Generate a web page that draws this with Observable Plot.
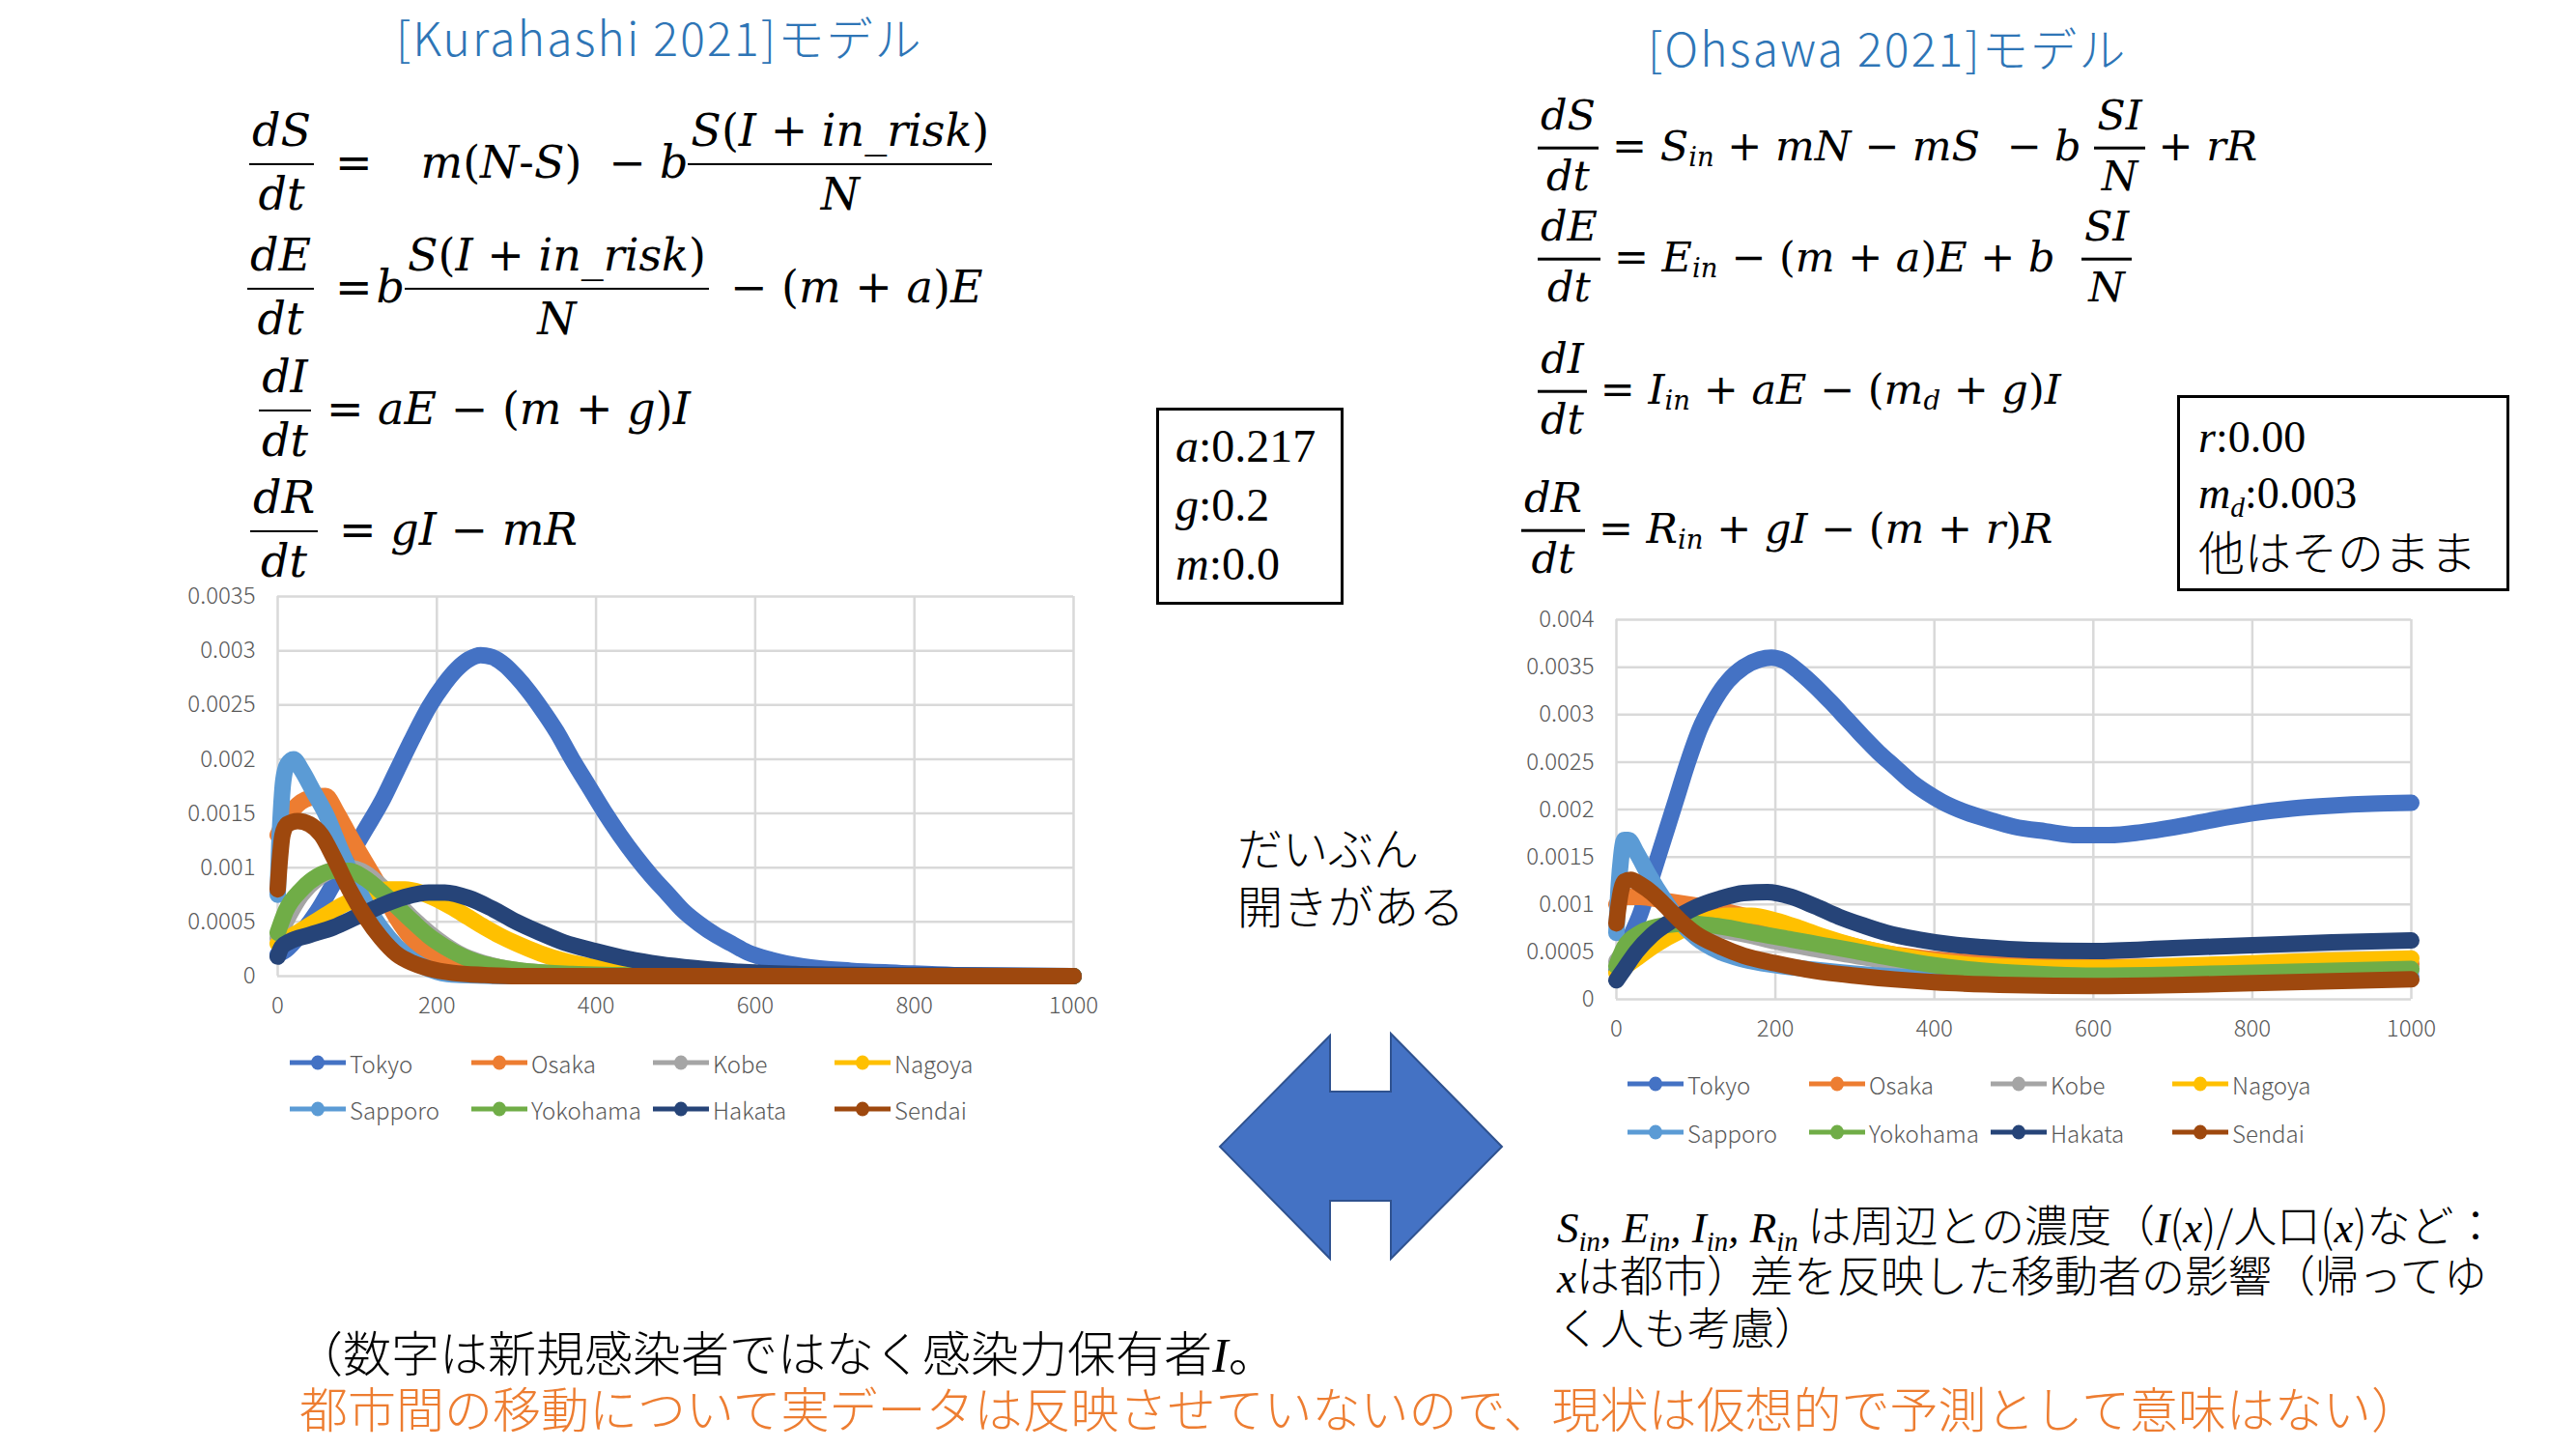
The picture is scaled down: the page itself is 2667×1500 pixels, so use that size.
<!DOCTYPE html>
<html>
<head>
<meta charset="utf-8">
<script src="https://cdn.jsdelivr.net/npm/d3@7"></script>
<script src="https://cdn.jsdelivr.net/npm/@observablehq/plot@0.6"></script>
<style>
  html, body { margin: 0; padding: 0; background: #fff; }
  #page { position: relative; width: 2667px; height: 1500px; overflow: hidden; background: #fff; }
  .abs { position: absolute; white-space: nowrap; }
  .jp { font-family: "Noto Sans CJK JP", "Noto Sans", sans-serif; font-weight: 300; }
  .title { color: #2E75B6; font-size: 48px; letter-spacing: 2.2px; line-height: 1.3; transform: translateY(-50%); }
  .eq { position: absolute; display: flex; align-items: center; font-family: "DejaVu Serif", "Liberation Serif", serif;
        font-style: italic; font-size: 46px; line-height: 1; white-space: nowrap; transform: translateY(-50%); color: #000; }
  .eq .u { font-style: normal; }
  .fr { display: inline-flex; flex-direction: column; text-align: center; }
  .fr > .n { padding: 0 3px 8px; line-height: 1.1; border-bottom: 2px solid #000; }
  .fr > .d { padding: 5px 3px 0; line-height: 1.1; }
  .eqR { font-size: 43px; }
  .eqR .fr > .n { border-bottom: 3.5px solid #000; padding-bottom: 9px; }
  .eqR .fr > .d { padding-top: 4px; }
  .sb { font-size: 0.64em; position: relative; top: 0.4em; font-style: italic; }
  .box { position: absolute; border: 3px solid #000; box-sizing: border-box; font-family: "Liberation Serif", serif; color: #000; }
  .box div { height: 61px; line-height: 61px; white-space: nowrap; }
  .legend { position: absolute; display: grid; grid-template-columns: repeat(4, 188px); }
  .lg-item { display: flex; align-items: center; height: 48px; font-family: "Noto Sans CJK JP", "Noto Sans", sans-serif;
             font-weight: 300; font-size: 24px; color: #595959; }
  .lg-item svg { margin-right: 4px; flex: none; }
  .note { font-size: 45px; line-height: 1; color: #000; transform: translateY(-50%); }
  .note i, .bt i { font-family: "Liberation Serif", serif; font-style: italic; }
  .note .sb { font-family: "Liberation Serif", serif; top: 0.3em; }
</style>
</head>
<body>
<div id="page">
  <!-- titles -->
  <div class="abs jp title" style="left:410px;top:37px;">[Kurahashi 2021]モデル</div>
  <div class="abs jp title" style="left:1706px;top:48px;">[Ohsawa 2021]モデル</div>

  <!-- Kurahashi equations -->
  <div class="eq" style="left:258px;top:168px;">
    <span class="fr"><span class="n">dS</span><span class="d">dt</span></span>
    <span class="u" style="margin-left:22px;">=</span>
    <span style="margin-left:50px;">m<span class="u">(</span>N<span class="u">-</span>S<span class="u">)</span></span>
    <span class="u" style="margin-left:28px;">−</span><span style="margin-left:14px;">b</span>
    <span class="fr"><span class="n">S<span class="u">(</span>I <span class="u">+</span> in_risk<span class="u">)</span></span><span class="d">N</span></span>
  </div>
  <div class="eq" style="left:256px;top:297px;">
    <span class="fr"><span class="n">dE</span><span class="d">dt</span></span>
    <span class="u" style="margin-left:22px;">=</span><span style="margin-left:4px;">b</span>
    <span class="fr"><span class="n">S<span class="u">(</span>I <span class="u">+</span> in_risk<span class="u">)</span></span><span class="d">N</span></span>
    <span class="u" style="margin-left:22px;">− (</span>m <span class="u">&nbsp;+&nbsp;</span> a<span class="u">)</span>E
  </div>
  <div class="eq" style="left:268px;top:423px;">
    <span class="fr"><span class="n">dI</span><span class="d">dt</span></span>
    <span class="u" style="margin-left:16px;">=</span>&nbsp;aE&nbsp;<span class="u">− (</span>m&nbsp;<span class="u">+</span>&nbsp;g<span class="u">)</span>I
  </div>
  <div class="eq" style="left:259px;top:548px;">
    <span class="fr"><span class="n">dR</span><span class="d">dt</span></span>
    <span class="u" style="margin-left:22px;">=</span>&nbsp;gI&nbsp;<span class="u">−</span>&nbsp;mR
  </div>

  <!-- Ohsawa equations -->
  <div class="eq eqR" style="left:1592px;top:151px;">
    <span class="fr"><span class="n">dS</span><span class="d">dt</span></span>
    <span class="u" style="margin-left:14px;">=</span>&nbsp;S<span class="sb">in</span>&nbsp;<span class="u">+</span>&nbsp;mN&nbsp;<span class="u">−</span>&nbsp;mS&nbsp;&nbsp;<span class="u">−</span>&nbsp;b&nbsp;
    <span class="fr"><span class="n">SI</span><span class="d">N</span></span>
    &nbsp;<span class="u">+</span>&nbsp;rR
  </div>
  <div class="eq eqR" style="left:1592px;top:266px;">
    <span class="fr"><span class="n">dE</span><span class="d">dt</span></span>
    <span class="u" style="margin-left:14px;">=</span>&nbsp;E<span class="sb">in</span>&nbsp;<span class="u">− (</span>m&nbsp;<span class="u">+</span>&nbsp;a<span class="u">)</span>E&nbsp;<span class="u">+</span>&nbsp;b&nbsp;&nbsp;
    <span class="fr"><span class="n">SI</span><span class="d">N</span></span>
  </div>
  <div class="eq eqR" style="left:1592px;top:403px;">
    <span class="fr"><span class="n">dI</span><span class="d">dt</span></span>
    <span class="u" style="margin-left:14px;">=</span>&nbsp;I<span class="sb">in</span>&nbsp;<span class="u">+</span>&nbsp;aE&nbsp;<span class="u">− (</span>m<span class="sb">d</span>&nbsp;<span class="u">+</span>&nbsp;g<span class="u">)</span>I
  </div>
  <div class="eq eqR" style="left:1575px;top:547px;">
    <span class="fr"><span class="n">dR</span><span class="d">dt</span></span>
    <span class="u" style="margin-left:14px;">=</span>&nbsp;R<span class="sb">in</span>&nbsp;<span class="u">+</span>&nbsp;gI&nbsp;<span class="u">− (</span>m&nbsp;<span class="u">+</span>&nbsp;r<span class="u">)</span>R
  </div>

  <!-- parameter boxes -->
  <div class="box" style="left:1197px;top:422px;width:194px;height:204px;padding:6px 0 0 17px;font-size:48px;">
    <div><i>a</i>:0.217</div>
    <div><i>g</i>:0.2</div>
    <div><i>m</i>:0.0</div>
  </div>
  <div class="box" style="left:2254px;top:409px;width:344px;height:203px;padding:12px 0 0 19px;font-size:46px;">
    <div style="height:58px;line-height:58px;"><i>r</i>:0.00</div>
    <div style="height:58px;line-height:58px;"><i>m<span class="sb" style="font-family:'Liberation Serif',serif;top:0.3em;">d</span></i>:0.003</div>
    <div class="jp" style="height:58px;line-height:58px;font-size:48px;">他はそのまま</div>
  </div>

  <!-- charts -->
  <div id="chartL" class="abs" style="left:170px;top:590px;width:1000px;height:480px;"></div>
  <div id="chartR" class="abs" style="left:1560px;top:615px;width:1000px;height:480px;"></div>
  <div id="legendL" class="legend" style="left:300px;top:1076px;"></div>
  <div id="legendR" class="legend" style="left:1685px;top:1097px;"></div>

  <!-- middle comment and arrow -->
  <div class="abs jp" style="left:1281px;top:846px;font-size:47px;line-height:60px;color:#000;">だいぶん<br>開きがある</div>
  <svg class="abs" style="left:0;top:0;" width="2667" height="1500" pointer-events="none">
    <polygon points="1263,1187 1377,1072 1377,1130 1440,1130 1440,1070 1555,1187 1440,1303 1440,1243 1377,1243 1377,1303"
             fill="#4472C4" stroke="#2F528F" stroke-width="2"/>
  </svg>

  <!-- right note -->
  <div class="abs jp note" style="left:1612px;top:1269px;"><i>S<span class="sb">in</span>, E<span class="sb">in</span>, I<span class="sb">in</span>, R<span class="sb">in</span></i> は周辺との濃度（<i>I</i>(<i>x</i>)/人口(<i>x</i>)など：</div>
  <div class="abs jp note" style="left:1612px;top:1321px;"><i>x</i>は都市）差を反映した移動者の影響（帰ってゆ</div>
  <div class="abs jp note" style="left:1612px;top:1372px;">く人も考慮）</div>

  <!-- bottom text -->
  <div class="abs jp bt" style="left:305px;top:1370px;font-size:50px;line-height:56px;color:#000;">（数字は新規感染者ではなく感染力保有者<i>I</i>。</div>
  <div class="abs jp" style="left:310px;top:1428px;font-size:50px;line-height:56px;color:#ED7D31;">都市間の移動について実データは反映させていないので、現状は仮想的で予測として意味はない）</div>
</div>

<script>
// ---- categories & styling keys ----
const cities = ["Tokyo", "Osaka", "Kobe", "Nagoya", "Sapporo", "Yokohama", "Hakata", "Sendai"];
const cityColors = ["#4472C4", "#ED7D31", "#A5A5A5", "#FFC000", "#5B9BD5", "#70AD47", "#264478", "#9E480E"];
const xTicks = [0, 200, 400, 600, 800, 1000];
const kuraYTicks = [0, 0.0005, 0.001, 0.0015, 0.002, 0.0025, 0.003, 0.0035];
const ohsaYTicks = [0, 0.0005, 0.001, 0.0015, 0.002, 0.0025, 0.003, 0.0035, 0.004];

// ---- [Kurahashi 2021] model: [day, I] ----
const kuraTokyo = [[0,0.0002],[10,0.00024],[30,0.0004],[50,0.0006],[70,0.00085],[90,0.0011],[110,0.00135],[130,0.0016],[150,0.0019],[170,0.0022],[190,0.00248],[210,0.0027],[225,0.00283],[240,0.00292],[255,0.00296],[270,0.00294],[285,0.00287],[300,0.00276],[315,0.00263],[330,0.00248],[350,0.00226],[370,0.002],[390,0.00176],[410,0.00152],[430,0.0013],[450,0.0011],[470,0.00092],[490,0.00076],[510,0.0006],[530,0.00048],[550,0.00038],[570,0.0003],[590,0.00022],[620,0.00015],[660,0.00009],[720,0.00005],[780,0.00003],[850,0.00001],[1000,0]];
const kuraOsaka = [[0,0.0013],[10,0.00145],[25,0.00158],[45,0.00165],[60,0.00166],[75,0.0015],[90,0.0013],[110,0.00105],[130,0.0008],[150,0.00053],[170,0.00033],[190,0.0002],[210,0.0001],[230,0.00005],[260,0.00002],[300,0],[1000,0]];
const kuraKobe = [[0,0.00035],[10,0.0005],[30,0.00075],[50,0.0009],[70,0.00098],[90,0.001],[110,0.00095],[130,0.00083],[150,0.00068],[170,0.00053],[190,0.0004],[210,0.00029],[230,0.0002],[250,0.00014],[280,0.00008],[320,0.00004],[370,0.00002],[420,0],[1000,0]];
const kuraNagoya = [[0,0.0003],[20,0.00038],[40,0.00047],[60,0.00056],[80,0.00065],[100,0.00072],[120,0.00078],[140,0.0008],[160,0.0008],[180,0.00077],[200,0.00071],[220,0.00063],[240,0.00054],[260,0.00045],[280,0.00037],[300,0.0003],[330,0.00021],[360,0.00014],[400,0.00008],[450,0.00004],[500,0.00002],[600,0],[1000,0]];
const kuraSapporo = [[0,0.00075],[2,0.0012],[4,0.0015],[7,0.0018],[12,0.00195],[20,0.002],[30,0.0019],[45,0.0017],[60,0.0015],[80,0.00115],[100,0.00082],[120,0.00055],[140,0.00035],[160,0.0002],[180,0.0001],[200,0.00004],[230,0.00001],[300,0],[1000,0]];
const kuraYokohama = [[0,0.0004],[10,0.0006],[30,0.0008],[50,0.00092],[70,0.00097],[90,0.00097],[110,0.0009],[130,0.00078],[150,0.00064],[170,0.0005],[190,0.00037],[210,0.00027],[230,0.00019],[250,0.00013],[280,0.00008],[320,0.00004],[370,0.00002],[420,0.00001],[500,0],[1000,0]];
const kuraHakata = [[0,0.00018],[5,0.00027],[15,0.00032],[40,0.00038],[70,0.00045],[100,0.00055],[130,0.00065],[160,0.00073],[190,0.00077],[210,0.00077],[240,0.00072],[270,0.00062],[300,0.0005],[330,0.0004],[360,0.00031],[400,0.00023],[440,0.00016],[480,0.00011],[530,0.00007],[580,0.00004],[650,0.00002],[750,0.00001],[1000,0]];
const kuraSendai = [[0,0.0008],[3,0.0011],[6,0.0013],[12,0.0014],[25,0.00143],[40,0.0014],[55,0.0013],[70,0.0011],[90,0.0008],[110,0.00055],[130,0.00035],[150,0.0002],[170,0.00012],[190,0.00007],[220,0.00003],[260,0.00001],[300,0],[1000,0]];

// ---- [Ohsawa 2021] model ----
const ohsaTokyo = [[0,0.0003],[10,0.0005],[20,0.0007],[30,0.0009],[45,0.0013],[60,0.0017],[75,0.0021],[90,0.0025],[105,0.00285],[120,0.0031],[140,0.00335],[160,0.0035],[180,0.00358],[195,0.0036],[210,0.00357],[230,0.00345],[250,0.0033],[270,0.00313],[290,0.00295],[310,0.00277],[330,0.0026],[350,0.00245],[370,0.0023],[390,0.00218],[410,0.00208],[440,0.00197],[470,0.00189],[500,0.00182],[540,0.00177],[580,0.00173],[620,0.00173],[660,0.00176],[700,0.00181],[750,0.00189],[800,0.00196],[850,0.00201],[900,0.00204],[950,0.00206],[1000,0.00207]];
const ohsaOsaka = [[0,0.001],[10,0.00108],[30,0.00108],[60,0.00104],[90,0.001],[120,0.00096],[150,0.0009],[180,0.00084],[210,0.00077],[240,0.00069],[280,0.0006],[330,0.0005],[400,0.00042],[500,0.00037],[600,0.00034],[700,0.00034],[800,0.00035],[900,0.00036],[1000,0.00037]];
const ohsaKobe = [[0,0.0004],[20,0.0006],[50,0.00072],[80,0.00076],[110,0.00076],[140,0.00072],[170,0.00067],[200,0.00061],[250,0.00053],[300,0.00046],[350,0.00039],[400,0.00033],[500,0.00026],[600,0.00023],[700,0.00024],[800,0.00026],[900,0.00028],[1000,0.0003]];
const ohsaNagoya = [[0,0.00028],[20,0.0004],[50,0.00058],[80,0.00072],[110,0.00082],[140,0.00088],[170,0.00088],[200,0.00083],[230,0.00075],[260,0.00066],[300,0.00056],[350,0.00047],[400,0.0004],[450,0.00036],[500,0.00034],[550,0.00033],[600,0.00033],[700,0.00035],[800,0.00038],[900,0.00041],[1000,0.00043]];
const ohsaSapporo = [[0,0.0007],[3,0.0012],[6,0.0015],[10,0.00168],[15,0.00168],[25,0.00155],[40,0.00132],[60,0.00105],[80,0.00082],[100,0.00065],[130,0.0005],[160,0.00042],[200,0.00036],[250,0.00031],[300,0.00027],[400,0.00022],[500,0.0002],[600,0.00019],[700,0.0002],[800,0.00022],[900,0.00023],[1000,0.00024]];
const ohsaYokohama = [[0,0.00035],[10,0.00055],[30,0.0007],[60,0.00078],[90,0.0008],[120,0.00078],[150,0.00074],[180,0.00069],[220,0.00063],[260,0.00057],[300,0.00051],[350,0.00043],[400,0.00036],[450,0.00031],[500,0.00028],[550,0.00026],[600,0.00025],[700,0.00026],[800,0.00028],[900,0.0003],[1000,0.00032]];
const ohsaHakata = [[0,0.0002],[10,0.00032],[25,0.0005],[45,0.00068],[70,0.00083],[100,0.00097],[130,0.00106],[160,0.00112],[190,0.00113],[220,0.00108],[250,0.00098],[280,0.00087],[310,0.00078],[340,0.0007],[380,0.00063],[420,0.00058],[460,0.00055],[520,0.00052],[600,0.00051],[700,0.00054],[800,0.00057],[900,0.0006],[1000,0.00062]];
const ohsaSendai = [[0,0.0008],[3,0.001],[6,0.00115],[10,0.00124],[18,0.00126],[30,0.00121],[45,0.00112],[60,0.001],[80,0.00083],[100,0.00069],[130,0.00056],[160,0.00046],[200,0.00038],[250,0.0003],[300,0.00025],[350,0.00021],[400,0.00018],[500,0.00015],[600,0.00014],[700,0.00015],[800,0.00017],[900,0.00019],[1000,0.00021]];

const kuraSeries = [kuraTokyo, kuraOsaka, kuraKobe, kuraNagoya, kuraSapporo, kuraYokohama, kuraHakata, kuraSendai];
const ohsaSeries = [ohsaTokyo, ohsaOsaka, ohsaKobe, ohsaNagoya, ohsaSapporo, ohsaYokohama, ohsaHakata, ohsaSendai];

function toTable(seriesList) {
  return seriesList.flatMap((pts, i) => pts.map(([x, y]) => ({city: cities[i], x, y})));
}
const fmt = d => d === 0 ? "0" : String(d);

function makeChart(table, yTicks, m) {
  return Plot.plot({
    width: 1000, height: 480,
    marginLeft: m.left, marginRight: m.right, marginTop: m.top, marginBottom: m.bottom,
    x: {domain: [0, 1000]},
    y: {domain: [0, yTicks[yTicks.length - 1]]},
    color: {domain: cities, range: cityColors},
    style: {fontFamily: '"Noto Sans CJK JP", "Noto Sans", sans-serif', fontSize: "24px", fontWeight: 300, color: "#595959", background: "transparent", overflow: "visible"},
    marks: [
      Plot.gridX(xTicks, {stroke: "#D9D9D9", strokeOpacity: 1, strokeWidth: 2.5}),
      Plot.gridY(yTicks, {stroke: "#D9D9D9", strokeOpacity: 1, strokeWidth: 2.5}),
      Plot.axisX(xTicks, {tickSize: 0, tickPadding: 21, label: null, tickFormat: d => String(d)}),
      Plot.axisY(yTicks, {tickSize: 0, tickPadding: 23, label: null, tickFormat: fmt}),
      Plot.line(table, {x: "x", y: "y", z: "city", stroke: "city", strokeWidth: 17, curve: "monotone-x",
                        strokeLinecap: "round", strokeLinejoin: "round"})
    ]
  });
}

document.getElementById("chartL").append(makeChart(toTable(kuraSeries), kuraYTicks, {left: 117, right: 59, top: 27, bottom: 60}));
document.getElementById("chartR").append(makeChart(toTable(ohsaSeries), ohsaYTicks, {left: 113, right: 64, top: 26, bottom: 61}));

function buildLegend(el, rowH) {
  cities.forEach((c, i) => {
    const item = document.createElement("div");
    item.className = "lg-item";
    item.style.height = rowH + "px";
    const col = cityColors[i];
    item.innerHTML = `<svg width="58" height="20"><line x1="0" y1="10" x2="58" y2="10" stroke="${col}" stroke-width="5"/>` +
      `<ellipse cx="29" cy="10" rx="7" ry="7.5" fill="${col}"/></svg><span>${c}</span>`;
    el.append(item);
  });
}
buildLegend(document.getElementById("legendL"), 48);
buildLegend(document.getElementById("legendR"), 50);
</script>
</body>
</html>
